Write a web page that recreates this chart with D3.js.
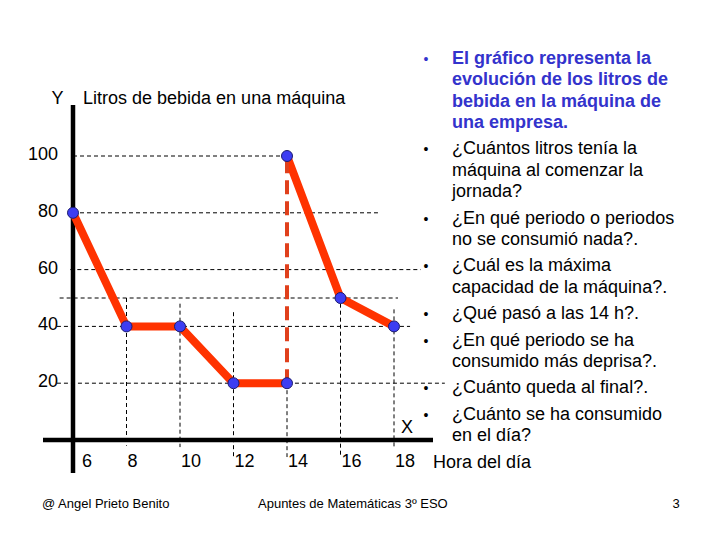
<!DOCTYPE html>
<html><head><meta charset="utf-8">
<script src="https://cdn.jsdelivr.net/npm/d3@7/dist/d3.min.js"></script>
<style>
body{margin:0;background:#fff;}
svg{display:block;font-family:"Liberation Sans",Arial,sans-serif;}
</style></head>
<body>
<svg id="c" width="720" height="540"></svg>
<script>
// ---- data ----
const hours  = [6, 8, 10, 12, 14, 14, 16, 18];
const litros = [80, 40, 40, 20, 20, 100, 50, 40];
const xTicks = [6, 8, 10, 12, 14, 16, 18];
const yTicks = [20, 40, 60, 80, 100];
// guide lines (data units): horizontal [value, fromHour, toHour]
const hGuideVal  = [100, 80, 60, 50, 40, 20];
const hGuideFrom = [6, 6, 5.9, 5.5, 5.4, 5.4];
const hGuideTo   = [14, 17.4, 19, 18.15, 18.6, 19.9];
// vertical guides [hour, topValue, bottomValue]
const vGuideHour = [8, 10, 12, 14, 16, 18];
const vGuideTop  = [50, 48, 45, 20, 48, 46];
const vGuideBot  = [-2, -2.5, -6, -6, -6, -2.5];

const title = "Litros de bebida en una máquina";
const paragraphs = [
  ["El gráfico representa la", "evolución de los litros de", "bebida en la máquina de", "una empresa."],
  ["¿Cuántos litros tenía la", "máquina al comenzar la", "jornada?"],
  ["¿En qué periodo o periodos", "no se consumió nada?."],
  ["¿Cuál es la máxima", "capacidad de la máquina?."],
  ["¿Qué pasó a las 14 h?."],
  ["¿En qué periodo se ha", "consumido más deprisa?."],
  ["¿Cuánto queda al final?."],
  ["¿Cuánto se ha consumido", "en el día?"]
];
const xTitle = "Hora del día";
const footer = ["@ Angel Prieto Benito", "Apuntes de Matemáticas 3º ESO", "3"];

// ---- scales ----
const svg = d3.select("#c");
const x = d3.scaleLinear().domain([6, 18]).range([73, 394]);
const y = d3.scaleLinear().domain([0, 100]).range([440, 156]);

// guides
const g = svg.append("g").attr("stroke", "#000").attr("stroke-width", 1).attr("stroke-dasharray", "4,3");
hGuideVal.forEach((v, i) => {
  g.append("line").attr("x1", x(hGuideFrom[i])).attr("x2", x(hGuideTo[i]))
   .attr("y1", y(v)).attr("y2", y(v));
});
vGuideHour.forEach((h, i) => {
  g.append("line").attr("x1", x(h)).attr("x2", x(h))
   .attr("y1", y(vGuideTop[i])).attr("y2", y(vGuideBot[i]));
});

// axes
svg.append("line").attr("x1", x(6)).attr("x2", x(6)).attr("y1", 105).attr("y2", 473)
   .attr("stroke", "#000").attr("stroke-width", 4.5);
svg.append("line").attr("x1", 43).attr("x2", 433).attr("y1", y(0)).attr("y2", y(0))
   .attr("stroke", "#000").attr("stroke-width", 4.5);

// data lines
const pts = hours.map((h, i) => [h, litros[i]]);
const line = d3.line().x(d => x(d[0])).y(d => y(d[1]));
svg.append("path").attr("d", line(pts.slice(0, 5))).attr("fill", "none")
   .attr("stroke", "#ff3300").attr("stroke-width", 8).attr("stroke-linejoin", "round");
svg.append("path").attr("d", line(pts.slice(5))).attr("fill", "none")
   .attr("stroke", "#ff3300").attr("stroke-width", 8).attr("stroke-linejoin", "round");
svg.append("path").attr("d", line(pts.slice(4, 6))).attr("fill", "none")
   .attr("stroke", "#e0401c").attr("stroke-width", 4).attr("stroke-dasharray", "14,7");

// points
svg.append("g").selectAll("circle").data(pts).join("circle")
   .attr("cx", d => x(d[0])).attr("cy", d => y(d[1])).attr("r", 5.5)
   .attr("fill", "#3d3df2").attr("stroke", "#1c1c70").attr("stroke-width", 1);

// tick labels
svg.append("g").selectAll("text").data(yTicks).join("text")
   .attr("x", 58).attr("y", d => y(d) + 4).attr("text-anchor", "end")
   .attr("font-size", 18).text(d => d);
svg.append("g").selectAll("text").data(xTicks).join("text")
   .attr("x", d => x(d) + (d === 6 ? 9 : 1)).attr("y", 467).attr("text-anchor", "start")
   .attr("font-size", 18).text(d => d);

svg.append("text").attr("x", 57.5).attr("y", 104).attr("text-anchor", "middle").attr("font-size", 18).text("Y");
svg.append("text").attr("x", 83).attr("y", 104).attr("font-size", 18).text(title);
svg.append("text").attr("x", 407).attr("y", 433).attr("text-anchor", "middle").attr("font-size", 18).text("X");

// right-hand text
let yy = 64;
const lh = 21.3, gap = 26.5;
paragraphs.forEach((p, pi) => {
  const blue = pi === 0;
  svg.append("text").attr("x", 426).attr("y", yy).attr("text-anchor", "middle")
     .attr("font-size", 14).attr("fill", blue ? "#3333cc" : "#000").text("•");
  p.forEach((t, li) => {
    svg.append("text").attr("x", 452).attr("y", yy + li * lh).attr("font-size", 18)
       .attr("font-weight", blue ? "bold" : "normal").attr("fill", blue ? "#3333cc" : "#000").text(t);
  });
  yy += (p.length - 1) * lh + gap;
});
svg.append("text").attr("x", 433).attr("y", yy).attr("font-size", 18).text(xTitle);

// footer
svg.append("text").attr("x", 42).attr("y", 508).attr("font-size", 13).text(footer[0]);
svg.append("text").attr("x", 258).attr("y", 508).attr("font-size", 13).text(footer[1]);
svg.append("text").attr("x", 676).attr("y", 508).attr("text-anchor", "middle").attr("font-size", 13).text(footer[2]);
</script>
</body></html>
